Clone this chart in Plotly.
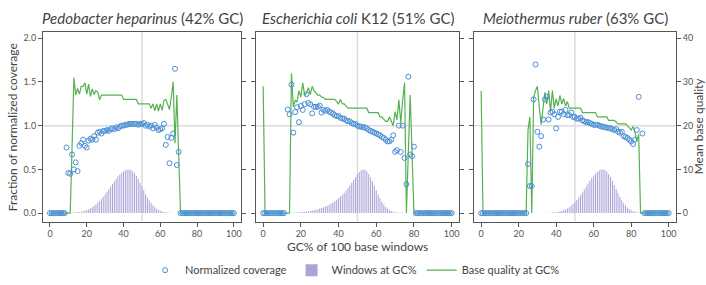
import plotly.graph_objects as go

# ---------------- data ----------------
gc = list(range(0, 101))  # GC% of 100 base windows

titles = [
    "<i>Pedobacter heparinus</i> (42% GC)",
    "<i>Escherichia coli</i> K12 (51% GC)",
    "<i>Meiothermus ruber</i> (63% GC)",
]

# Panel 1 : Pedobacter heparinus
cov1 = ([0] * 9 +
        [0.75, 0.46, 0.45, 0.67, 0.50, 0.58, 0.48, 0.77, 0.80, 0.84,
         0.77, 0.75, 0.83, 0.85, 0.84, 0.88, 0.84, 0.92, 0.93, 0.91,
         0.94, 0.94, 0.95, 0.94, 0.96, 0.97, 0.96, 0.98, 0.97, 0.99,
         1.00, 1.00, 1.01, 1.01, 1.02, 1.02, 1.02, 1.02, 1.02, 1.01,
         1.02, 1.02, 1.03, 1.00, 1.01, 0.99, 1.00, 0.97, 1.01, 0.98,
         0.95, 0.96, 0.97, 1.02, 0.78, 0.87, 0.57, 0.86, 0.91, 1.65,
         0.55, 0.70] +
        [0] * 30)
q1 = ([0] * 12 +
      [15, 31, 27, 28.5, 27.2, 29, 29, 29.8, 27.2, 29.5, 26.7, 28.4, 27.1, 28, 27.6, 25.9] +
      [27] * 12 +
      [26] * 8 +
      [25] * 7 +
      [24, 25, 23.4, 25, 23.3, 25, 23.5, 25.8, 26, 24.7, 23.7, 26.5, 30, 16, 27, 13.5] +
      [0] * 30)
h1 = ([0] * 9 +
      [0.002, 0.002, 0.003, 0.004, 0.006, 0.008, 0.010, 0.013, 0.017, 0.022,
       0.028, 0.036, 0.044, 0.055, 0.068, 0.082, 0.099, 0.118, 0.139, 0.162,
       0.188, 0.215, 0.243, 0.273, 0.303, 0.333, 0.363, 0.391, 0.418, 0.441,
       0.461, 0.478, 0.490, 0.497, 0.500, 0.495, 0.480, 0.456, 0.425, 0.389,
       0.346, 0.303, 0.260, 0.215, 0.180, 0.145, 0.115, 0.089, 0.068, 0.050,
       0.036, 0.026, 0.018, 0.012, 0.009, 0.006, 0.004, 0.003, 0.002, 0.002,
       0.002, 0.002] +
      [0] * 30)

# Panel 2 : Escherichia coli K12
cov2 = ([0] * 12 + [None] +
        [1.185, 1.13, 1.47, 0.92, 1.155, 1.21, 1.04, 1.225, 1.18, 1.245,
         1.36, 1.26, 1.245, 1.14, 1.215, 1.215, 1.215, 1.23, 1.15, 1.18,
         1.17, 1.18, 1.16, 1.15, 1.14, 1.12, 1.11, 1.11, 1.09, 1.08,
         1.08, 1.06, 1.05, 1.05, 1.03, 1.02, 1.02, 1.00, 0.99, 0.99,
         0.98, 0.98, 0.97, 0.95, 0.94, 0.93, 0.92, 0.91, 0.90, 0.89,
         0.87, 0.86, 0.84, 0.82, 0.82, 0.84, 0.89, 0.70, 0.72, 1.00,
         0.70, 1.00, 0.63, 0.33, 1.56, 0.67, 0.65, 0.76] +
        [0] * 20)
q2 = ([29] + [0] * 14 +
      [32, 24.3, 25.8, 25.4, 28, 26.5, 29.8, 26.9, 27.5, 28.7,
       27.1, 29, 28, 27.4, 27, 27, 26.5, 26.5, 26, 26,
       26, 26, 26, 26, 25.5, 25, 26, 25, 25, 24.5] +
      [24] * 11 +
      [23] * 6 +
      [22, 22, 21.5, 21, 21, 22, 21, 20, 23.2, 21.3, 25.9, 20.6, 25.8, 29.8, 0, 13.5, 27, 13.5] +
      [0] * 21)
h2 = ([0] * 14 +
      [0.003, 0.004, 0.005, 0.006, 0.007, 0.009, 0.011, 0.013, 0.016, 0.019, 0.022,
       0.025, 0.029, 0.033, 0.038, 0.045, 0.052, 0.059, 0.067, 0.076, 0.085,
       0.095, 0.107, 0.121, 0.136, 0.152, 0.170, 0.190, 0.211, 0.234, 0.259,
       0.286, 0.315, 0.346, 0.378, 0.411, 0.443, 0.470, 0.490, 0.500, 0.496,
       0.478, 0.448, 0.408, 0.362, 0.312, 0.262, 0.214, 0.170, 0.131, 0.098,
       0.071, 0.050, 0.034, 0.023, 0.015, 0.010, 0.007, 0.005, 0.004, 0.003,
       0.002, 0.002, 0.002, 0.002, 0.002, 0.002] +
      [0] * 20)

# Panel 3 : Meiothermus ruber
cov3 = ([0] * 25 +
        [0.56, 0.31, 0.31, 1.30, 1.70, 0.93, 0.76, 0.88, 1.07, 1.30,
         1.33, 1.07, 1.15, 1.16, 1.13, 0.97, 1.10, 1.16, 1.16, 1.13,
         1.18, 1.12, 1.12, 1.15, 1.10, 1.10, 1.08, 1.08, 1.09, 1.06,
         1.05, 1.04, 1.04, 1.03, 1.02, 1.01, 1.01, 1.01, 1.00, 0.99,
         0.99, 0.98, 0.98, 0.97, 0.97, 0.96, 0.95, 0.96, 0.93, 0.92,
         0.93, 0.88, 0.87, 0.86, 0.84, 0.82, 0.79, 0.84, 0.95, 1.33] +
        [None, 0.91] +
        [0] * 14)
q3 = ([28] + [0] * 24 +
      [19, 22, 0, 26.5, 28, 29, 24.3, 20.2, 24, 27.6,
       25, 28, 23.2, 28, 24, 26.1, 24.5, 26.9, 25, 26.2,
       24.5, 25.5, 24, 24, 24, 24, 24, 24, 24, 23] +
      [23] * 7 +
      [22] * 6 +
      [21.2] * 4 +
      [20.8, 20.4, 20.4, 20.4, 20.4, 20.4, 20, 19.5, 19, 19.8, 18.5, 16.5, 18] +
      [0] * 16)
h3 = ([0] * 25 +
      [0.002, 0.002, 0.002, 0.002, 0.002, 0.002, 0.002, 0.002, 0.002, 0.002,
       0.002, 0.003, 0.004, 0.006, 0.008, 0.010, 0.014, 0.019, 0.025, 0.033,
       0.042, 0.054, 0.068, 0.084, 0.103, 0.125, 0.149, 0.176, 0.205, 0.237,
       0.270, 0.303, 0.337, 0.370, 0.401, 0.429, 0.453, 0.473, 0.488, 0.497,
       0.500,
       0.494, 0.476, 0.448, 0.412, 0.369, 0.322, 0.275, 0.229, 0.186, 0.148,
       0.114, 0.086, 0.064, 0.046, 0.032, 0.022, 0.015, 0.010, 0.006, 0.004,
       0.002] +
      [0] * 14)

for arr in (cov1, q1, h1, cov2, q2, h2, cov3, q3, h3):
    assert len(arr) == 101, len(arr)

x_ticks = [0, 20, 40, 60, 80, 100]
cov_ticks = [0, 0.5, 1.0, 1.5, 2.0]
cov_tick_text = ["0.0", "0.5", "1.0", "1.5", "2.0"]
qual_ticks = [0, 10, 20, 30, 40]

# ---------------- style ----------------
W, H = 706, 285
FONT = "Lato, 'Open Sans', sans-serif"
TXT = "#444444"
AX = "#555555"
BLUE = "#4a8fd6"
GREEN = "#55b24f"
BAR = "rgba(170,162,216,0.99)"   # alpha < 1 -> thin pixel-rounded bars
GRID = "#dcdcdc"

x_px = [(43, 241), (256, 459), (474, 676)]
y_dom = [(H - 228) / H, (H - 33) / H]
x_rng = [-3.8, 103.9]
cov_rng = [-0.097, 2.07]
qual_rng = [cov_rng[0] * 20, cov_rng[1] * 20]

fig = go.Figure()
layout = dict(
    width=W, height=H,
    margin=dict(l=0, r=0, t=0, b=0),
    paper_bgcolor="white", plot_bgcolor="white",
    font=dict(family=FONT, color=TXT, size=11),
    showlegend=True,
    legend=dict(orientation="h", x=0.503, xanchor="center", y=(H - 278) / H, yanchor="middle",
                font=dict(size=11, color=TXT), bgcolor="rgba(0,0,0,0)", traceorder="normal"),
    hovermode=False,
)
shapes = []
annotations = []

panels = [(cov1, h1, q1), (cov2, h2, q2), (cov3, h3, q3)]
for i, (cov, hist, qual) in enumerate(panels):
    xa = "x" if i == 0 else f"x{i + 1}"
    xk = "xaxis" if i == 0 else f"xaxis{i + 1}"
    nb = 3 * i + 1
    yb = "y" if nb == 1 else f"y{nb}"
    ybk = "yaxis" if nb == 1 else f"yaxis{nb}"
    yr, yrk = f"y{nb + 1}", f"yaxis{nb + 1}"
    yt, ytk = f"y{nb + 2}", f"yaxis{nb + 2}"

    fig.add_trace(go.Bar(x=gc, y=hist, xaxis=xa, yaxis=yb, width=0.55,
                         marker=dict(color=BAR, line=dict(width=0)),
                         name="Windows at GC%", legendrank=2, showlegend=(i == 0)))
    fig.add_trace(go.Scatter(x=gc, y=qual, xaxis=xa, yaxis=yr, mode="lines",
                             line=dict(color=GREEN, width=1.2),
                             name="Base quality at GC%", legendrank=3, showlegend=(i == 0)))
    fig.add_trace(go.Scatter(x=gc, y=cov, xaxis=xa, yaxis=yt, mode="markers",
                             marker=dict(symbol="circle-open", size=5, color=BLUE, line=dict(width=1)),
                             name="Normalized coverage", legendrank=1, showlegend=(i == 0)))

    dom = [x_px[i][0] / W, x_px[i][1] / W]
    layout[xk] = dict(domain=dom, range=x_rng, anchor=yb, tickvals=x_ticks,
                      ticks="outside", ticklen=4, tickcolor=AX, tickwidth=1,
                      showline=True, mirror=True, linecolor=AX, linewidth=1,
                      showgrid=False, zeroline=False,
                      tickfont=dict(size=9, color=AX))
    layout[ybk] = dict(domain=y_dom, range=cov_rng, anchor=xa, side="left",
                       tickvals=cov_ticks, ticktext=cov_tick_text,
                       showticklabels=(i == 0),
                       ticks="outside", ticklen=4, tickcolor=AX, tickwidth=1,
                       showline=True, linecolor=AX, linewidth=1,
                       showgrid=False, zeroline=False,
                       tickfont=dict(size=9, color=AX))
    layout[yrk] = dict(range=qual_rng, anchor=xa, overlaying=yb, side="right",
                       tickvals=qual_ticks, showticklabels=(i == 2),
                       ticks="outside", ticklen=4, tickcolor=AX, tickwidth=1,
                       showline=True, linecolor=AX, linewidth=1,
                       showgrid=False, zeroline=False,
                       tickfont=dict(size=9, color=AX))
    layout[ytk] = dict(range=cov_rng, anchor=xa, overlaying=yb, visible=False,
                       showgrid=False, zeroline=False)

    # reference lines at GC 50% and coverage 1.0
    shapes.append(dict(type="line", xref=xa, yref=f"{yb} domain", x0=50, x1=50, y0=0, y1=1,
                       line=dict(color=GRID, width=1.5), layer="below"))
    shapes.append(dict(type="line", xref=f"{xa} domain", yref=yb, x0=0, x1=1, y0=1, y1=1,
                       line=dict(color=GRID, width=1.5), layer="below"))

    annotations.append(dict(text=titles[i], xref="paper", yref="paper",
                            x=(dom[0] + dom[1]) / 2, y=(H - 19) / H,
                            xanchor="center", yanchor="middle", showarrow=False,
                            font=dict(size=15, color=TXT)))

annotations.append(dict(text="Fraction of normalized coverage", xref="paper", yref="paper",
                        x=12 / W, y=(H - 131) / H, textangle=-90, showarrow=False,
                        xanchor="center", yanchor="middle", font=dict(size=12, color=TXT)))
annotations.append(dict(text="Mean base quality", xref="paper", yref="paper",
                        x=698 / W, y=(H - 130) / H, textangle=-90, showarrow=False,
                        xanchor="center", yanchor="middle", font=dict(size=12, color=TXT)))
annotations.append(dict(text="GC% of 100 base windows", xref="paper", yref="paper",
                        x=357 / W, y=(H - 254) / H, showarrow=False,
                        xanchor="center", yanchor="middle", font=dict(size=12, color=TXT)))

layout["shapes"] = shapes
layout["annotations"] = annotations
fig.update_layout(**layout)

fig.write_html("out.html", config={"displayModeBar": False},
               post_script="document.body.style.margin='0';document.body.style.overflow='hidden';")
